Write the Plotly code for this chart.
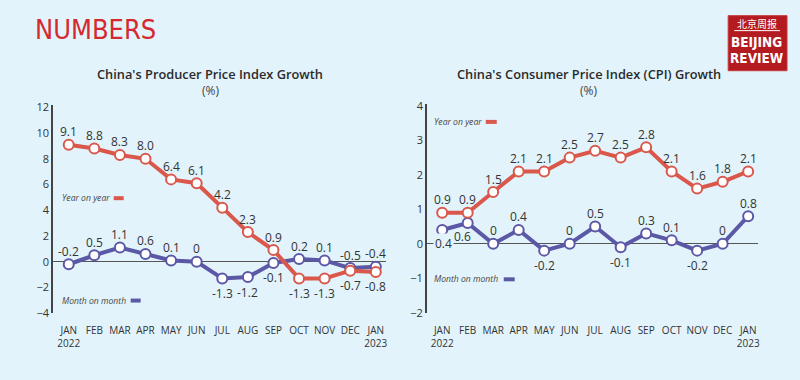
import plotly.graph_objects as go

# ---------------- data ----------------
months = ["JAN<br>2022", "FEB", "MAR", "APR", "MAY", "JUN", "JUL", "AUG", "SEP", "OCT", "NOV", "DEC", "JAN<br>2023"]
ppi_yoy = [9.1, 8.8, 8.3, 8.0, 6.4, 6.1, 4.2, 2.3, 0.9, -1.3, -1.3, -0.7, -0.8]
ppi_mom = [-0.2, 0.5, 1.1, 0.6, 0.1, 0, -1.3, -1.2, -0.1, 0.2, 0.1, -0.5, -0.4]
cpi_yoy = [0.9, 0.9, 1.5, 2.1, 2.1, 2.5, 2.7, 2.5, 2.8, 2.1, 1.6, 1.8, 2.1]
cpi_mom = [0.4, 0.6, 0, 0.4, -0.2, 0, 0.5, -0.1, 0.3, 0.1, -0.2, 0, 0.8]
ppi_yticks = [-4, -2, 0, 2, 4, 6, 8, 10, 12]
cpi_yticks = [-2, -1, 0, 1, 2, 3, 4]

# label placement (style): +1 above, -1 below
ppi_yoy_pos = [1, 1, 1, 1, 1, 1, 1, 1, 1, -1, -1, -1, -1]
ppi_mom_pos = [1, 1, 1, 1, 1, 1, -1, -1, -1, 1, 1, 1, 1]
cpi_yoy_pos = [1] * 13
cpi_mom_pos = [-1, -1, 1, 1, -1, 1, 1, -1, 1, 1, -1, 1, 1]

W, H = 800, 380
BG = "#e2f3fb"
RED = "#d9584b"
BLUE = "#5b58a6"
TXT = "#333333"
LABEL_FONT = "Open Sans, Lato, sans-serif"
TICK_FONT = "Open Sans, sans-serif"


def px_x(p):
    return p / W


def px_y(p):
    return 1 - p / H


fig = go.Figure()
xs = list(range(len(months)))


def add_series(xaxis, yaxis, vals, color):
    fig.add_trace(go.Scatter(
        x=xs, y=vals, xaxis=xaxis, yaxis=yaxis, mode="lines+markers",
        line=dict(color=color, width=4),
        marker=dict(size=10, color="white", line=dict(color=color, width=2)),
        hoverinfo="skip", showlegend=False, cliponaxis=False,
    ))


add_series("x", "y", ppi_mom, BLUE)
add_series("x", "y", ppi_yoy, RED)
add_series("x2", "y2", cpi_mom, BLUE)
add_series("x2", "y2", cpi_yoy, RED)

annotations = []


def fmt(v, keep_decimal=False):
    if v == 0 and not keep_decimal:
        return "0"
    return f"{v:.1f}"


def add_labels(xref, yref, vals, pos, keep_decimal=False, special=None):
    for i, (v, p) in enumerate(zip(vals, pos)):
        a = dict(x=i, y=v, xref=xref, yref=yref, text=fmt(v, keep_decimal), showarrow=False,
                 font=dict(family=LABEL_FONT, size=12, color=TXT),
                 xanchor="center", yanchor="middle",
                 yshift=13 if p > 0 else -15)
        if special and i in special:
            a.update(special[i])
        annotations.append(a)


add_labels("x", "y", ppi_yoy, ppi_yoy_pos, keep_decimal=True)
add_labels("x", "y", ppi_mom, ppi_mom_pos)
add_labels("x2", "y2", cpi_yoy, cpi_yoy_pos, keep_decimal=True)
add_labels("x2", "y2", cpi_mom, cpi_mom_pos,
           special={0: dict(bgcolor=BG, yshift=-14, borderpad=1, xshift=1),
                    1: dict(yshift=-13, xshift=-5)})

# titles
for cx, t in [(211, "China's Producer Price Index Growth"), (590, "China's Consumer Price Index (CPI) Growth")]:
    annotations.append(dict(x=px_x(cx), y=px_y(70.5), xref="paper", yref="paper", text=t, showarrow=False,
                            font=dict(family="Open Sans, sans-serif", size=12.8, color="#2a2a2a", weight=600),
                            xanchor="center", yanchor="middle"))
    annotations.append(dict(x=px_x(cx), y=px_y(87), xref="paper", yref="paper", text="(%)", showarrow=False,
                            font=dict(family="Open Sans, sans-serif", size=12, color="#444"),
                            xanchor="center", yanchor="middle"))

# header
annotations.append(dict(x=px_x(33), y=px_y(24), xref="paper", yref="paper", text="NUMBERS", showarrow=False,
                        font=dict(family="DejaVu Sans Condensed, Liberation Sans Narrow, sans-serif", size=27, color="#d42a2f"),
                        xanchor="left", yanchor="middle"))

# logo texts
annotations.append(dict(x=px_x(758.5), y=px_y(18), xref="paper", yref="paper", text="北京周报", showarrow=False,
                        font=dict(family="Noto Sans CJK SC", size=10, color="white"), xanchor="center", yanchor="middle"))
annotations.append(dict(x=px_x(758.5), y=px_y(37), xref="paper", yref="paper", text="<b>BEIJING</b>", showarrow=False,
                        font=dict(family="DejaVu Sans Condensed, sans-serif", size=13.5, color="white"),
                        xanchor="center", yanchor="middle"))
annotations.append(dict(x=px_x(758.5), y=px_y(54), xref="paper", yref="paper", text="<b>REVIEW</b>", showarrow=False,
                        font=dict(family="DejaVu Sans Condensed, sans-serif", size=13.5, color="white"),
                        xanchor="center", yanchor="middle"))

# legends
legend_items = [
    (60, 199, "Year on year", 114, 124, RED),
    (60, 305, "Month on month", 131, 141, BLUE),
    (433, 120, "Year on year", 487, 498, RED),
    (433, 283, "Month on month", 505, 516, BLUE),
]
shapes = []
for tx, ty, txt, sx0, sx1, col in legend_items:
    annotations.append(dict(x=px_x(tx), y=px_y(ty), xref="paper", yref="paper", text=f"<i>{txt}</i>", showarrow=False,
                            font=dict(family="Open Sans, sans-serif", size=8.6, color="#444"),
                            xanchor="left", yanchor="middle"))
    shapes.append(dict(type="line", xref="paper", yref="paper", x0=px_x(sx0), x1=px_x(sx1),
                       y0=px_y(ty), y1=px_y(ty), line=dict(color=col, width=4)))

# logo box
shapes.append(dict(type="rect", xref="paper", yref="paper", x0=px_x(730), x1=px_x(789), y0=px_y(67), y1=px_y(10),
                   fillcolor="#b31b20", line=dict(color="#c43a3a", width=1), layer="below"))
shapes.append(dict(type="line", xref="paper", yref="paper", x0=px_x(736), x1=px_x(782), y0=px_y(25.5), y1=px_y(25.5),
                   line=dict(color="white", width=1)))

xcommon = dict(tickmode="array", tickvals=xs, ticktext=months, showline=False, zeroline=False, showgrid=False,
               ticks="", ticklabelstandoff=10, tickfont=dict(family=TICK_FONT, size=10, color=TXT), fixedrange=True)
ycommon = dict(tickmode="array", showline=True, linecolor="#444", linewidth=1.5, showgrid=False,
               zeroline=True, zerolinecolor="#555", zerolinewidth=1, ticks="",
               tickfont=dict(family=TICK_FONT, size=11, color=TXT), fixedrange=True)

fig.update_layout(
    width=W, height=H, margin=dict(l=0, r=0, t=0, b=0),
    paper_bgcolor=BG, plot_bgcolor=BG,
    xaxis=dict(domain=[px_x(53), px_x(387)], range=[-0.62, 12.4], anchor="y", **xcommon),
    yaxis=dict(domain=[px_y(318), px_y(102.3)], range=[-4, 12.2], tickvals=ppi_yticks, anchor="x", **ycommon),
    xaxis2=dict(domain=[px_x(427.7), px_x(760)], range=[-0.61, 12.39], anchor="y2", **xcommon),
    yaxis2=dict(domain=[px_y(317.5), px_y(101.7)], range=[-2, 4.05], tickvals=cpi_yticks, anchor="x2", **ycommon),
    annotations=annotations, shapes=shapes, showlegend=False,
)

fig.write_html("out.html", config={"displayModeBar": False, "staticPlot": True},
               post_script="document.body.style.margin='0';document.body.style.overflow='hidden';"
                           "document.body.style.background='" + BG + "';")
